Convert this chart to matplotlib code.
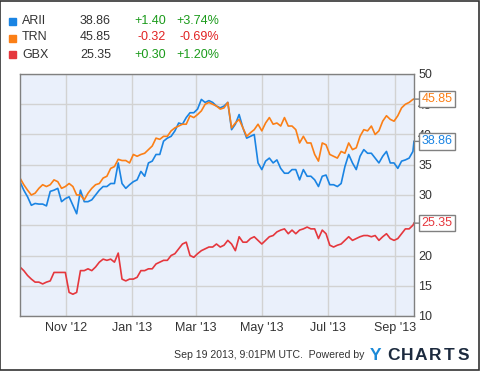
import numpy as np
import pandas as pd
import matplotlib
matplotlib.use('Agg')
import matplotlib.pyplot as plt
import matplotlib.dates as mdates
from matplotlib.patches import Rectangle

plt.rcParams['font.family'] = ['Liberation Sans', 'DejaVu Sans']

# ----------------------------------------------------
# DATA (closes every half week, plus the last quote)

dates = list(pd.date_range('2012-09-19', periods=105, freq='84h')) + [pd.Timestamp('2013-09-19')]

arii = [32.2, 30.8, 29.7, 28.3, 28.6, 28.5, 28.5, 28.2, 30.6, 30.8,
        31.1, 28.9, 29.4, 29.7, 28.3, 26.9, 30.8, 28.9, 28.9, 29.2,
        30.0, 30.8, 31.4, 31.4, 31.9, 31.9, 35.3, 31.9, 31.1, 31.7,
        32.2, 32.5, 33.9, 33.1, 35.3, 35.6, 36.7, 36.7, 38.9, 39.4,
        39.7, 40.6, 41.9, 41.7, 42.8, 43.6, 43.6, 44.2, 45.8, 45.3,
        45.6, 45.3, 44.7, 44.4, 44.7, 45.3, 40.8, 41.7, 43.3, 41.1,
        39.4, 39.7, 40.0, 35.3, 34.2, 35.6, 36.1, 35.3, 35.8, 34.4,
        33.6, 33.6, 34.2, 34.2, 32.5, 34.2, 33.1, 33.1, 32.5, 31.4,
        33.1, 33.3, 31.7, 31.7, 31.4, 31.9, 34.7, 36.7, 35.3, 34.2,
        36.4, 37.5, 36.9, 36.9, 36.1, 35.3, 36.4, 37.2, 35.3, 35.3,
        34.4, 35.6, 35.8, 36.1, 37.2, 38.86]
trn = [32.8, 31.7, 30.8, 30.0, 30.3, 31.1, 31.7, 31.4, 31.7, 32.5,
       32.2, 31.1, 31.4, 31.9, 31.4, 30.0, 30.0, 29.2, 30.3, 31.1,
       31.7, 31.9, 32.8, 33.1, 34.4, 34.7, 35.9, 35.7, 35.7, 35.3,
       36.7, 36.4, 36.7, 36.9, 37.5, 38.1, 39.4, 39.2, 39.7, 39.7,
       40.6, 41.1, 41.4, 41.7, 41.7, 43.1, 42.8, 43.3, 43.9, 45.0,
       45.3, 45.0, 44.7, 44.2, 44.4, 45.3, 41.1, 41.9, 42.5, 41.1,
       39.7, 40.3, 40.8, 41.7, 40.6, 41.9, 42.8, 41.7, 41.9, 41.4,
       42.8, 41.4, 41.4, 40.8, 38.6, 39.7, 38.6, 38.6, 36.7, 35.6,
       38.6, 38.3, 36.7, 36.4, 36.1, 37.2, 36.9, 38.6, 37.5, 37.8,
       39.7, 40.8, 40.6, 41.4, 40.0, 40.6, 42.2, 43.1, 42.5, 42.2,
       43.1, 44.4, 45.0, 45.3, 45.8, 45.85]
gbx = [18.1, 17.5, 16.7, 16.1, 15.6, 15.6, 15.3, 15.6, 15.8, 17.2,
       17.2, 17.2, 17.2, 13.9, 13.6, 13.9, 17.5, 17.5, 17.8, 17.5,
       18.1, 18.9, 19.4, 19.2, 19.4, 18.9, 20.4, 16.1, 15.8, 16.1,
       16.1, 16.4, 17.5, 17.5, 17.8, 17.8, 18.6, 18.9, 19.2, 19.2,
       20.0, 20.3, 21.1, 21.9, 22.2, 20.0, 19.7, 20.3, 20.8, 21.1,
       21.4, 21.4, 21.9, 21.4, 21.7, 22.5, 21.9, 20.8, 23.1, 22.2,
       22.2, 22.8, 23.1, 22.5, 21.9, 22.5, 23.1, 23.3, 23.9, 24.2,
       24.4, 23.6, 24.2, 23.6, 24.2, 24.4, 24.7, 24.4, 24.4, 22.8,
       24.2, 23.6, 21.7, 21.4, 21.7, 21.9, 22.5, 23.1, 22.5, 22.8,
       23.1, 23.3, 23.3, 23.1, 23.3, 22.5, 23.1, 23.6, 22.8, 22.5,
       22.8, 23.6, 24.4, 24.4, 25.0, 25.35]

tickers = ['ARII', 'TRN', 'GBX']
changes = ['+1.40', '-0.32', '+0.30']
pct_changes = ['+3.74%', '-0.69%', '+1.20%']
colors = ['#1a84e3', '#fb7f16', '#e5373d']

# ----------------------------------------------------
# FIGURE

fig = plt.figure(figsize=(4.8, 3.71), dpi=100)
fig.patches.append(Rectangle((0.001, 0.003), 0.996, 0.995, transform=fig.transFigure,
                             fill=False, edgecolor='#333333', linewidth=1.2))

ax = fig.add_axes([20 / 480, 55 / 371, 394 / 480, 242 / 371])
ax.set_facecolor('#eaf0fb')

for series, c in zip([arii, trn, gbx], colors):
    ax.plot(dates, series, color=c, linewidth=1.2)

ax.set_xlim(pd.Timestamp('2012-09-19'), pd.Timestamp('2013-09-19'))
ax.set_ylim(10, 50)
ax.set_yticks(np.arange(10, 51, 5))
ax.yaxis.tick_right()
ax.xaxis.set_major_locator(mdates.MonthLocator(bymonth=[1, 3, 5, 7, 9, 11]))
ax.xaxis.set_major_formatter(mdates.DateFormatter("%b '%y"))
ax.tick_params(length=0, labelsize=9, colors='#333333', pad=4)
ax.tick_params(axis='y', pad=3)
ax.grid(True, color='#d2d2d2', linewidth=1)
ax.set_axisbelow(True)
for sp in ax.spines.values():
    sp.set_color('#808080')
    sp.set_linewidth(1)

# last value tags on the right
for series, c in zip([arii, trn, gbx], colors):
    ax.annotate(f'{series[-1]:.2f}', xy=(dates[-1], series[-1]), xytext=(5.5, 0),
                textcoords='offset points', va='center', ha='left', fontsize=9, color=c,
                zorder=5,
                bbox=dict(boxstyle='square,pad=0.18', fc='white', ec='#808080', lw=1),
                arrowprops=dict(arrowstyle='-', color='#808080', lw=1, shrinkA=0, shrinkB=0))

# ----------------------------------------------------
# LEGEND TABLE

for i, t in enumerate(tickers):
    y = 1 - (20.5 + 17 * i) / 371
    fig.patches.append(Rectangle((9 / 480, y - 4 / 371), 7 / 480, 7 / 371,
                                 transform=fig.transFigure, color=colors[i]))
    fig.text(22 / 480, y, t, fontsize=9, color='#333333', va='center')
    fig.text(111 / 480, y, f'{[arii, trn, gbx][i][-1]:.2f}', fontsize=9,
             color='#333333', va='center', ha='right')
    tc = '#1a9a1a' if changes[i].startswith('+') else '#e02222'
    fig.text(166 / 480, y, changes[i], fontsize=9, color=tc, va='center', ha='right')
    fig.text(219 / 480, y, pct_changes[i], fontsize=9, color=tc, va='center', ha='right')

# ----------------------------------------------------
# FOOTER

fy = 1 - 355 / 371
fig.text(364 / 480, fy, 'Sep 19 2013, 9:01PM UTC.  Powered by', fontsize=7.6,
         color='#333333', ha='right', va='center')
fig.text(376 / 480, fy, 'Y', fontsize=12.5, fontweight='bold',
         color='#1b8ad8', ha='center', va='center')
for k, ch in enumerate('CHARTS'):
    fig.text((393 + 14 * k) / 480, fy, ch, fontsize=12.5, fontweight='bold',
             color='#1c2a3e', ha='center', va='center')

fig.savefig('out.png', dpi=100)
